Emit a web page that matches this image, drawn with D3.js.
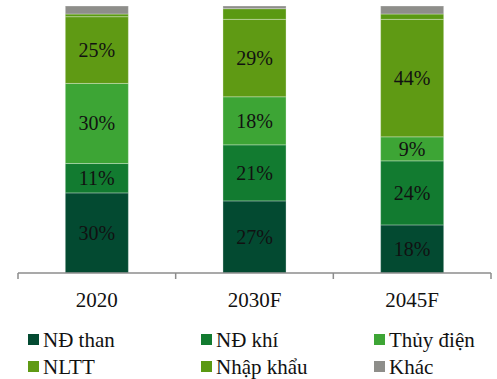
<!DOCTYPE html>
<html>
<head>
<meta charset="utf-8">
<script src="https://cdn.jsdelivr.net/npm/d3@7"></script>
<style>
  html, body { margin: 0; padding: 0; background: #fff; }
  svg { display: block; }
</style>
</head>
<body>
<svg id="chart" width="497" height="379"></svg>
<script>
// Power generation structure by source (% share)
const categories = ["2020", "2030F", "2045F"];
const seriesNames = ["NĐ than", "NĐ khí", "Thủy điện", "NLTT", "Nhập khẩu", "Khác"];
const ndThan   = [30, 27, 18];
const ndKhi    = [11, 21, 24];
const thuyDien = [30, 18, 9];
const nltt     = [25, 29, 44];
const nhapKhau = [1, 4, 2];
const khac     = [3, 1, 3];
const seriesColors = ["#034a31", "#127b30", "#3da535", "#5f9a14", "#5a9912", "#8e8e8a"];

const seriesValues = [ndThan, ndKhi, thuyDien, nltt, nhapKhau, khac];
const rows = categories.map((c, i) => {
  const r = { category: c };
  seriesNames.forEach((s, j) => { r[s] = seriesValues[j][i]; });
  return r;
});

const svg = d3.select("#chart");
const font = "'Liberation Serif', 'Times New Roman', Times, serif";

const x = d3.scaleBand().domain(categories).range([18, 491]).paddingInner(0.6).paddingOuter(0.3);
const y = d3.scaleLinear().domain([0, 100]).range([273, 6]);

const stacked = d3.stack().keys(seriesNames)(rows);
const color = d3.scaleOrdinal().domain(seriesNames).range(seriesColors);

const layers = svg.append("g").selectAll("g")
  .data(stacked)
  .join("g")
  .attr("fill", d => color(d.key));

layers.selectAll("rect")
  .data(d => d)
  .join("rect")
  .attr("x", d => x(d.data.category))
  .attr("width", x.bandwidth())
  .attr("y", d => y(d[1]))
  .attr("height", d => y(d[0]) - y(d[1]))
  .attr("stroke", "rgba(255,255,255,0.3)")
  .attr("stroke-width", 1);

// value labels for the larger segments
layers.selectAll("text")
  .data(d => d.filter(p => (p[1] - p[0]) >= 5))
  .join("text")
  .attr("x", d => x(d.data.category) + x.bandwidth() / 2)
  .attr("y", d => (y(d[0]) + y(d[1])) / 2)
  .attr("dy", "0.35em")
  .attr("text-anchor", "middle")
  .attr("fill", "#111")
  .style("font-family", font)
  .style("font-size", "20px")
  .text(d => `${d[1] - d[0]}%`);

// category axis with boundary ticks
const axisY = 273;
const axisG = svg.append("g");
axisG.append("line")
  .attr("x1", 18).attr("x2", 491)
  .attr("y1", axisY).attr("y2", axisY)
  .attr("stroke", "#8c8c8c").attr("stroke-width", 1.5);
const tickXs = d3.range(categories.length + 1).map(i => 18 + i * (473 / categories.length));
axisG.selectAll("line.tick")
  .data(tickXs)
  .join("line")
  .attr("class", "tick")
  .attr("x1", d => d).attr("x2", d => d)
  .attr("y1", axisY).attr("y2", axisY + 6)
  .attr("stroke", "#8c8c8c").attr("stroke-width", 1.5);
axisG.selectAll("text")
  .data(categories)
  .join("text")
  .attr("x", d => x(d) + x.bandwidth() / 2)
  .attr("y", 307)
  .attr("text-anchor", "middle")
  .attr("fill", "#111")
  .style("font-family", font)
  .style("font-size", "21px")
  .text(d => d);

// legend: 3 columns x 2 rows
const legendCols = [28, 201, 374];
const legendRows = [340, 367];
const legend = svg.append("g").selectAll("g")
  .data(seriesNames)
  .join("g")
  .attr("transform", (d, i) => `translate(${legendCols[i % 3]},${legendRows[Math.floor(i / 3)]})`);
legend.append("rect")
  .attr("x", 0).attr("y", -6)
  .attr("width", 11).attr("height", 11)
  .attr("fill", d => color(d));
legend.append("text")
  .attr("x", 15).attr("y", 0)
  .attr("dy", "0.35em")
  .attr("fill", "#111")
  .style("font-family", font)
  .style("font-size", "21px")
  .text(d => d);
</script>
</body>
</html>
